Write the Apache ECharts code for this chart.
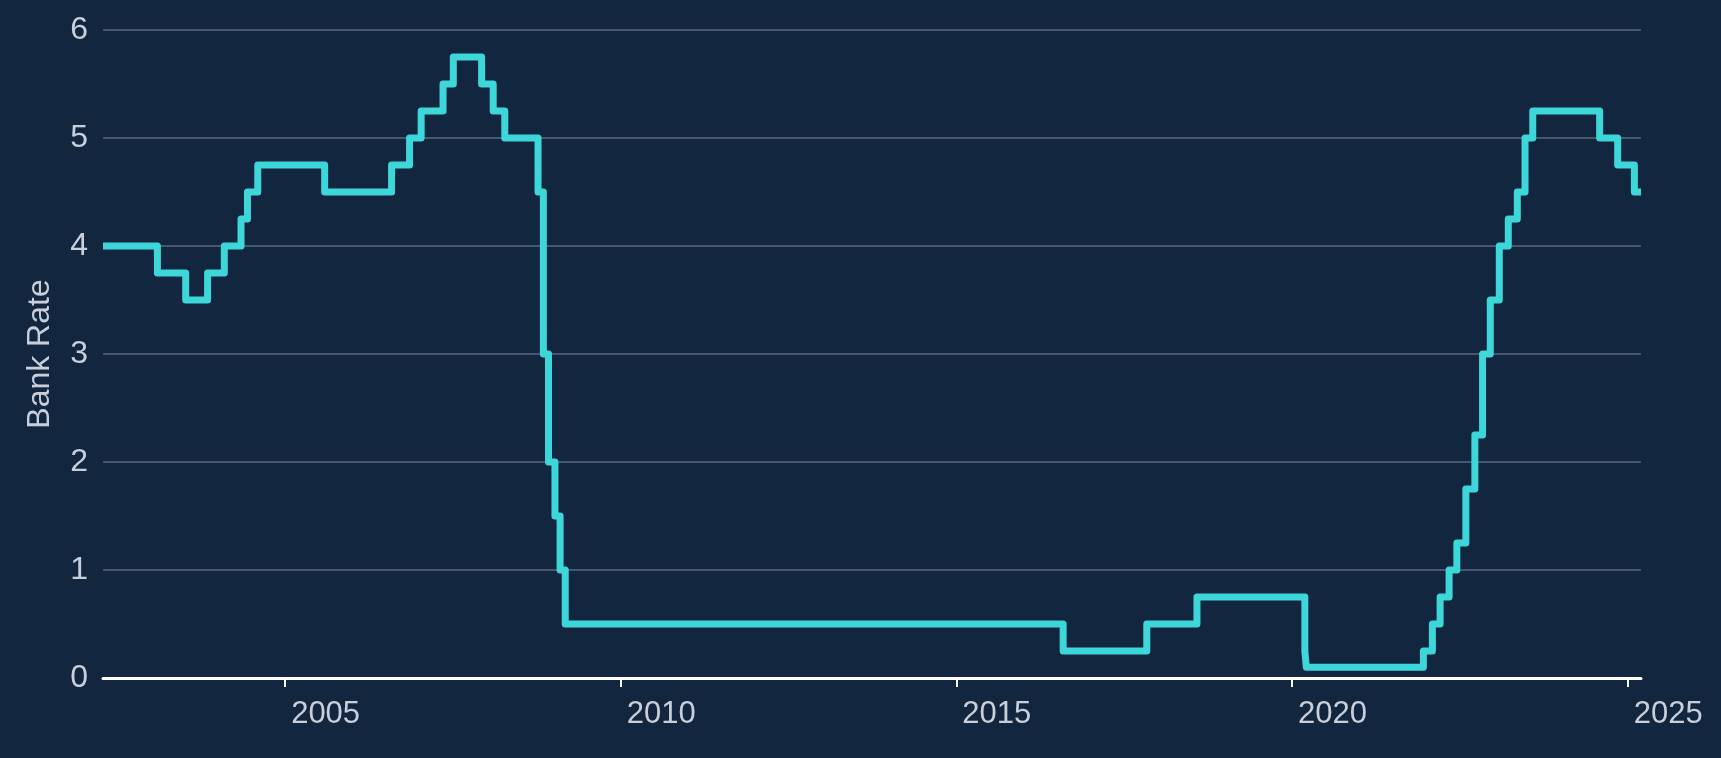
<!DOCTYPE html>
<html>
<head>
<meta charset="utf-8">
<style>
  html, body { margin: 0; padding: 0; background: #132640; }
  #chart { width: 1721px; height: 758px; }
</style>
<script src="https://cdn.jsdelivr.net/npm/echarts@6/dist/echarts.min.js"></script>
</head>
<body>
<div id="chart"></div>
<script>
// Bank Rate change dates and the rate that applied from each date
const changeDates = [
  '2002-04-16', '2003-02-06', '2003-07-10', '2003-11-06', '2004-02-05', '2004-05-06',
  '2004-06-10', '2004-08-05', '2005-08-04', '2006-08-03', '2006-11-09', '2007-01-11',
  '2007-05-10', '2007-07-05', '2007-12-06', '2008-02-07', '2008-04-10', '2008-10-08',
  '2008-11-06', '2008-12-04', '2009-01-08', '2009-02-05', '2009-03-05', '2016-08-04',
  '2017-11-02', '2018-08-02', '2020-03-11', '2020-03-19', '2021-12-16', '2022-02-03',
  '2022-03-17', '2022-05-05', '2022-06-16', '2022-08-04', '2022-09-22', '2022-11-03',
  '2022-12-15', '2023-02-02', '2023-03-23', '2023-05-11', '2023-06-22', '2023-08-03',
  '2024-08-01', '2024-11-07', '2025-02-06', '2025-03-14'
];
const rates = [
  4.00, 3.75, 3.50, 3.75, 4.00, 4.25,
  4.50, 4.75, 4.50, 4.75, 5.00, 5.25,
  5.50, 5.75, 5.50, 5.25, 5.00, 4.50,
  3.00, 2.00, 1.50, 1.00, 0.50, 0.25,
  0.50, 0.75, 0.25, 0.10, 0.25, 0.50,
  0.75, 1.00, 1.25, 1.75, 2.25, 3.00,
  3.50, 4.00, 4.25, 4.50, 5.00, 5.25,
  5.00, 4.75, 4.50, 4.50
];
const xTickYears = ['2005-01-01', '2010-01-01', '2015-01-01', '2020-01-01', '2025-01-01'];
const yTicks = [0, 1, 2, 3, 4, 5, 6];
const axisStart = '2002-04-16';
const axisEnd = '2025-03-14';
const yName = 'Bank Rate';

const ts = d => Date.parse(d + 'T00:00:00Z');
const seriesData = changeDates.map((d, i) => [ts(d), rates[i]]);
const xTickValues = xTickYears.map(ts);

const chart = echarts.init(document.getElementById('chart'), null, { renderer: 'canvas' });
chart.setOption({
  backgroundColor: '#132640',
  animation: false,
  textStyle: { fontFamily: 'Liberation Sans, Arial, sans-serif' },
  grid: { left: 103, right: 80, top: 30, bottom: 80, containLabel: false },
  xAxis: {
    type: 'value',
    min: ts(axisStart),
    max: ts(axisEnd),
    splitLine: { show: false },
    axisLine: { show: true, lineStyle: { color: '#ffffff', width: 3 } },
    axisTick: {
      show: true,
      customValues: xTickValues,
      length: 9,
      lineStyle: { color: '#ffffff', width: 2 }
    },
    axisLabel: {
      customValues: xTickValues,
      formatter: v => String(new Date(v).getUTCFullYear()),
      color: '#c9cfda',
      fontSize: 31,
      align: 'left',
      padding: [0, 0, 0, 6],
      margin: 21,
      hideOverlap: false
    }
  },
  yAxis: {
    type: 'value',
    min: 0,
    max: 6,
    interval: 1,
    name: yName,
    nameLocation: 'middle',
    nameGap: 47,
    nameTextStyle: { color: '#c9cfda', fontSize: 32 },
    axisLine: { show: false },
    axisTick: { show: false },
    axisLabel: {
      color: '#c9cfda',
      fontSize: 32,
      margin: 15,
      padding: [7, 0, 0, 0],
      formatter: v => yTicks.includes(v) ? String(v) : ''
    },
    splitLine: { show: true, lineStyle: { color: '#5b6980', width: 1.5 } }
  },
  series: [{
    type: 'line',
    step: 'end',
    data: seriesData,
    showSymbol: false,
    symbol: 'none',
    z: 3,
    lineStyle: { color: '#3dd6d9', width: 7, join: 'round', cap: 'butt' }
  }]
});
</script>
</body>
</html>
